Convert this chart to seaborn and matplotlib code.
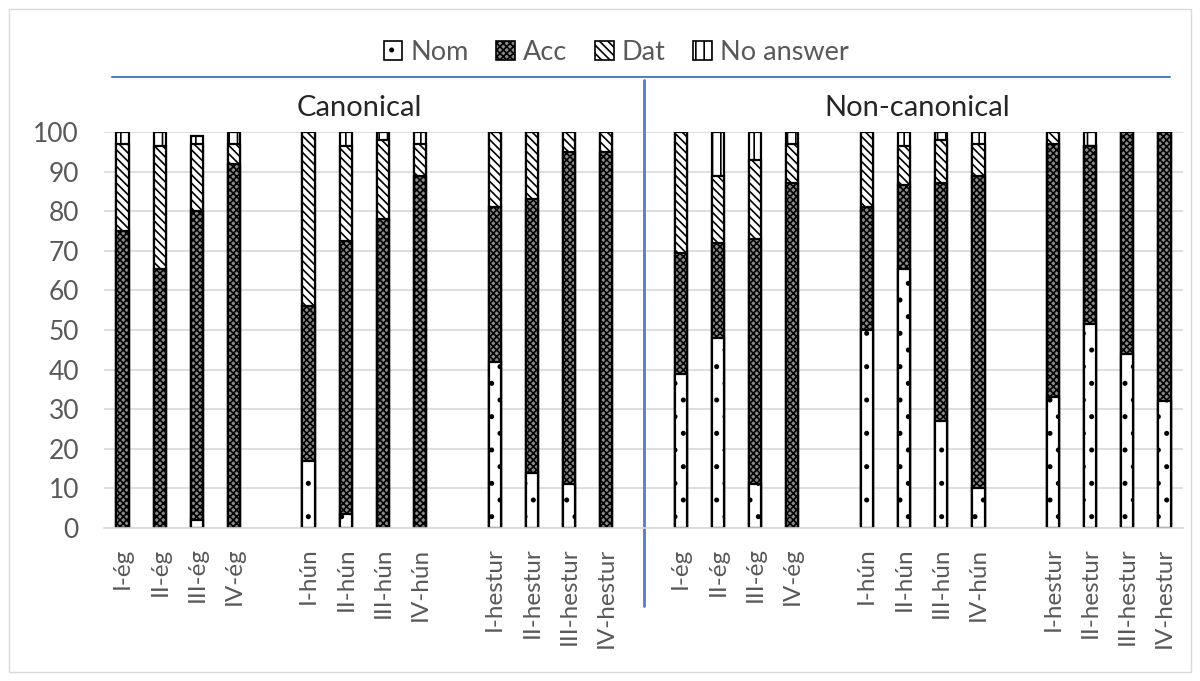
import matplotlib
matplotlib.use("Agg")
import matplotlib.pyplot as plt
import matplotlib.patches as mpatches
import matplotlib.lines as mlines
import matplotlib.transforms as mtransforms
import numpy as np
import pandas as pd
import seaborn as sns

# ---- data -------------------------------------------------------------
forms = ["I-ég", "II-ég", "III-ég", "IV-ég",
         "I-hún", "II-hún", "III-hún", "IV-hún",
         "I-hestur", "II-hestur", "III-hestur", "IV-hestur"]
conditions = ["Canonical", "Non-canonical"]
cases = ["Nom", "Acc", "Dat", "No answer"]

canon_nom = [0, 0, 2, 0, 17, 3.5, 0, 0, 42, 14, 11, 0]
canon_acc = [75, 65.5, 78, 92, 39, 69, 78, 89, 39, 69, 84, 95]
canon_dat = [22, 31, 17, 5, 44, 24, 20, 8, 19, 17, 5, 5]
canon_na = [3, 3.5, 2, 3, 0, 3.5, 2, 3, 0, 0, 0, 0]

noncanon_nom = [39, 48, 11, 0, 50, 65.5, 27, 10, 33, 51.5, 44, 32]
noncanon_acc = [30.5, 24, 62, 87, 31, 21, 60, 79, 64, 45, 56, 68]
noncanon_dat = [30.5, 17, 20, 10, 19, 10, 11, 8, 3, 0, 0, 0]
noncanon_na = [0, 11, 7, 3, 0, 3.5, 2, 3, 0, 3.5, 0, 0]

y_ticks = list(range(0, 101, 10))

# ---- style ------------------------------------------------------------
sns.set_style("white")
plt.rcParams["font.family"] = ["Lato", "DejaVu Sans"]
plt.rcParams["hatch.linewidth"] = 1.2

TEXT_GREY = "#595959"
GRID_GREY = "#d9d9d9"
BLUE = "#4f81bd"

# ---- table ------------------------------------------------------------
rows = []
for cond, nom, acc, dat, na in [
    ("Canonical", canon_nom, canon_acc, canon_dat, canon_na),
    ("Non-canonical", noncanon_nom, noncanon_acc, noncanon_dat, noncanon_na),
]:
    for f, a, b, c, d in zip(forms, nom, acc, dat, na):
        rows.append({"key": f"{cond}|{f}", "Nom": a, "Acc": b, "Dat": c, "No answer": d})
df = pd.DataFrame(rows)
df["cum_nom"] = df["Nom"]
df["cum_acc"] = df["cum_nom"] + df["Acc"]
df["cum_dat"] = df["cum_acc"] + df["Dat"]
df["cum_na"] = df["cum_dat"] + df["No answer"]

# category slots: pronoun groups of four separated by an empty slot,
# the two conditions separated by another empty slot
order = []
gap_no = 0
for ci, cond in enumerate(conditions):
    if ci > 0:
        order.append(f"gap{gap_no}")
        divider_key = order[-1]
        gap_no += 1
    for gi in range(3):
        if gi > 0:
            order.append(f"gap{gap_no}")
            gap_no += 1
        for f in forms[gi * 4:(gi + 1) * 4]:
            order.append(f"{cond}|{f}")
tick_labels = [k.split("|")[1] if "|" in k else "" for k in order]

# ---- figure -----------------------------------------------------------
fig = plt.figure(figsize=(12, 6.81), dpi=100)
ax = fig.add_axes([104 / 1200, 1 - 528 / 681, (1183 - 104) / 1200, (528 - 132) / 681])

styles = {
    "Nom": dict(color="white", hatch="."),
    "Acc": dict(color="#8a8a8a", hatch="xxxxx"),
    "Dat": dict(color="white", hatch="\\\\\\\\"),
    "No answer": dict(color="white", hatch="||"),
}

# stacked bars: draw cumulative totals from the top segment down
for case, col in [("No answer", "cum_na"), ("Dat", "cum_dat"),
                  ("Acc", "cum_acc"), ("Nom", "cum_nom")]:
    st = styles[case]
    sns.barplot(data=df, x="key", y=col, order=order, color=st["color"],
                saturation=1, width=0.33, edgecolor="black", linewidth=1.6,
                hatch=st["hatch"], errorbar=None, ax=ax)

ax.set_xlabel("")
ax.set_ylabel("")
ax.set_xlim(-0.5, len(order) - 0.5)
ax.set_ylim(0, 100)
ax.set_axisbelow(True)
ax.yaxis.grid(True, color=GRID_GREY, linewidth=1.2)
ax.xaxis.grid(False)
ax.set_yticks(y_ticks)
ax.set_yticklabels([str(t) for t in y_ticks])
ax.set_xticks(range(len(order)))
ax.set_xticklabels(tick_labels, rotation=90)
ax.set_xticks(np.arange(-0.5, len(order), 1), minor=True)
ax.tick_params(axis="x", which="major", length=0, pad=14, labelsize=17.5, labelcolor=TEXT_GREY)
ax.tick_params(axis="x", which="minor", length=9, width=1, color=GRID_GREY)
ax.tick_params(axis="y", length=0, pad=18, labelsize=19, labelcolor=TEXT_GREY)
for side in ["top", "right", "left"]:
    ax.spines[side].set_visible(False)
ax.spines["bottom"].set_color(GRID_GREY)
ax.spines["bottom"].set_linewidth(1.2)

# condition headings
fig_y = mtransforms.blended_transform_factory(ax.transData, fig.transFigure)
first_idx = [order.index(f"{c}|{forms[0]}") for c in conditions]
last_idx = [order.index(f"{c}|{forms[-1]}") for c in conditions]
for c, i0, i1 in zip(conditions, first_idx, last_idx):
    ax.text((i0 + i1) / 2 - 0.15, 1 - 108 / 681, c, transform=fig_y, ha="center",
            va="center", fontsize=21, color="#262626")

# separators
fig.add_artist(mlines.Line2D([112 / 1200, 1170 / 1200], [1 - 77 / 681] * 2,
                             color=BLUE, linewidth=1.5))
xd = order.index(divider_key)
ax.plot([xd, xd], [1 - 80 / 681, 1 - 606 / 681], transform=fig_y, color=BLUE,
        linewidth=2, clip_on=False)

# legend
handles = [mpatches.Patch(facecolor=styles[c]["color"], edgecolor="black",
                          hatch=styles[c]["hatch"], linewidth=1.2) for c in cases]
fig.legend(handles, cases, loc="center", bbox_to_anchor=(616 / 1200, 1 - 52 / 681),
           ncol=4, frameon=False, fontsize=19.5, handlelength=0.7, handleheight=0.7,
           handletextpad=0.3, columnspacing=1.0, labelcolor=TEXT_GREY)

# chart frame
fig.add_artist(mpatches.Rectangle((9 / 1200, 9 / 681), 1182 / 1200, 663 / 681,
                                  transform=fig.transFigure, fill=False,
                                  edgecolor=GRID_GREY, linewidth=1))

fig.savefig("out.png", dpi=100)
